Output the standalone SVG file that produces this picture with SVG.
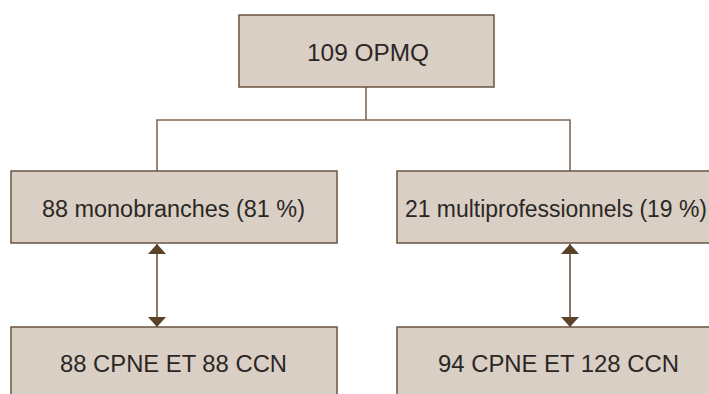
<svg xmlns="http://www.w3.org/2000/svg" width="709" height="394" viewBox="0 0 709 394">
  <style>
    .box { fill: #dacfc4; stroke: #6a5441; stroke-width: 1.5; }
    .label { font-family: "Liberation Sans", Arial, sans-serif; font-size: 23px; fill: #2b2725; }
    .link { fill: none; stroke: #7e6a58; stroke-width: 1.6; }
    .arrow { fill: none; stroke: #6a5441; stroke-width: 1.6; marker-start: url(#head); marker-end: url(#head); }
  </style>
  <defs>
    <marker id="head" viewBox="0 0 10 18" refX="10" refY="9" markerWidth="10" markerHeight="18" markerUnits="userSpaceOnUse" orient="auto-start-reverse">
      <path d="M0,0 L10,9 L0,18 Z" fill="#5c4129"/>
    </marker>
  </defs>

  <rect width="709" height="394" fill="#ffffff"/>

  <!-- tree lines and two-way arrows -->
  <g id="connectors">
    <path class="link" d="M366,87 V120 M157,171 V120 H570 V171"/>
    <line class="arrow" x1="157" y1="244" x2="157" y2="327"/>
    <line class="arrow" x1="570" y1="244" x2="570" y2="327"/>
  </g>

  <g id="root">
    <rect class="box" x="239" y="15" width="255" height="72"/>
    <text class="label" x="307" y="61" textLength="122" lengthAdjust="spacingAndGlyphs">109 OPMQ</text>
  </g>

  <g id="mono">
    <rect class="box" x="11" y="171" width="326" height="72"/>
    <text class="label" x="42" y="217" textLength="263" lengthAdjust="spacingAndGlyphs">88 monobranches (81 %)</text>
  </g>

  <g id="multi">
    <rect class="box" x="397" y="171" width="330" height="72"/>
    <text class="label" x="405" y="217" textLength="302" lengthAdjust="spacingAndGlyphs">21 multiprofessionnels (19 %)</text>
  </g>

  <g id="mono-conventions">
    <rect class="box" x="11" y="327" width="326" height="80"/>
    <text class="label" x="60" y="372" textLength="227" lengthAdjust="spacingAndGlyphs">88 CPNE ET 88 CCN</text>
  </g>

  <g id="multi-conventions">
    <rect class="box" x="397" y="327" width="330" height="80"/>
    <text class="label" x="438" y="372" textLength="241" lengthAdjust="spacingAndGlyphs">94 CPNE ET 128 CCN</text>
  </g>
</svg>
